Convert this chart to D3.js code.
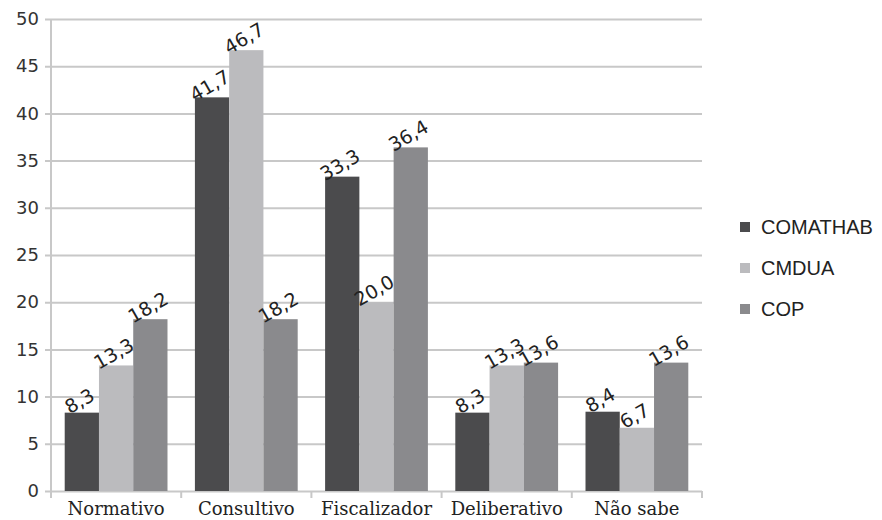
<!DOCTYPE html>
<html>
<head>
<meta charset="utf-8">
<script src="https://cdn.jsdelivr.net/npm/d3@7"></script>
<style>
  body { margin: 0; background: #fff; }
  svg { display: block; }
</style>
</head>
<body>
<div id="graph"></div>
<script>
// categorias e séries
var categories = ["Normativo", "Consultivo", "Fiscalizador", "Deliberativo", "Não sabe"];
var seriesNames = ["COMATHAB", "CMDUA", "COP"];
var comathab = [8.3, 41.7, 33.3, 8.3, 8.4];
var cmdua = [13.3, 46.7, 20.0, 13.3, 6.7];
var cop = [18.2, 18.2, 36.4, 13.6, 13.6];
var yTicks = [0, 5, 10, 15, 20, 25, 30, 35, 40, 45, 50];
var colors = ["#4b4b4d", "#bbbbbe", "#8a8a8d"];

var width = 882, height = 520;
var margin = { top: 19, left: 51, bottom: 29, right: 180 };
var chartWidth = 702 - margin.left;
var chartHeight = height - margin.top - margin.bottom;

var svg = d3.select("#graph").append("svg")
  .attr("width", width).attr("height", height);

var axisLayer = svg.append("g").attr("transform", "translate(" + [margin.left, margin.top] + ")");
var chartLayer = svg.append("g").attr("transform", "translate(" + [margin.left, margin.top] + ")");

var values = [comathab, cmdua, cop];
var data = [];
categories.forEach(function(c, i) {
  seriesNames.forEach(function(s, j) {
    data.push({ cat: c, series: s, idx: j, value: values[j][i] });
  });
});

var xScale = d3.scaleBand().domain(categories).range([0, chartWidth])
  .paddingInner(0).paddingOuter(0);
var xInner = d3.scaleBand().domain(seriesNames)
  .range([0, xScale.bandwidth()]).paddingInner(0).paddingOuter(0.4);
var yScale = d3.scaleLinear().domain([0, 50]).range([chartHeight, 0]);

// grade e eixo y
var yAxis = d3.axisLeft(yScale).tickValues(yTicks).tickSizeInner(-chartWidth).tickSizeOuter(0).tickPadding(12);
var gy = axisLayer.append("g").call(yAxis);
gy.select(".domain").remove();
gy.selectAll(".tick line").attr("stroke", "#c8c8c8").attr("stroke-width", 2).attr("x1", -6);
gy.selectAll(".tick text")
  .attr("font-family", "DejaVu Sans").attr("font-size", 18).attr("fill", "#333");

axisLayer.append("line")
  .attr("x1", 0).attr("x2", 0).attr("y1", 0).attr("y2", chartHeight + 6)
  .attr("stroke", "#c8c8c8").attr("stroke-width", 2);

// eixo x
var xAxis = d3.axisBottom(xScale).tickSize(0).tickPadding(12);
var gx = axisLayer.append("g").attr("transform", "translate(0," + chartHeight + ")").call(xAxis);
gx.select(".domain").remove();
gx.selectAll(".tick text")
  .attr("font-family", "DejaVu Serif").attr("font-size", 18).attr("fill", "#222")
  .attr("dy", "0.67em");
var bounds = categories.map(function(c) { return xScale(c); }).concat([chartWidth]);
axisLayer.selectAll(".xtick").data(bounds).enter().append("line")
  .attr("x1", function(d) { return d; }).attr("x2", function(d) { return d; })
  .attr("y1", chartHeight).attr("y2", chartHeight + 7)
  .attr("stroke", "#c8c8c8").attr("stroke-width", 2);

// barras
chartLayer.selectAll(".bar").data(data).enter().append("rect")
  .attr("x", function(d) { return xScale(d.cat) + xInner(d.series); })
  .attr("y", function(d) { return yScale(d.value); })
  .attr("width", xInner.bandwidth())
  .attr("height", function(d) { return chartHeight - yScale(d.value); })
  .attr("fill", function(d) { return colors[d.idx]; });

// rótulos
chartLayer.selectAll(".lbl").data(data).enter().append("text")
  .attr("transform", function(d) {
    var cx = xScale(d.cat) + xInner(d.series) + xInner.bandwidth() / 2;
    return "translate(" + [cx + 1, yScale(d.value) - 6] + ") rotate(-30)";
  })
  .attr("text-anchor", "middle")
  .attr("font-family", "DejaVu Sans").attr("font-size", 19).attr("fill", "#222")
  .text(function(d) { return d3.format(".1f")(d.value).replace(".", ","); });

// legenda
var legend = svg.append("g").attr("transform", "translate(740,227)");
var items = legend.selectAll(".item").data(seriesNames).enter().append("g")
  .attr("transform", function(d, i) { return "translate(0," + i * 41 + ")"; });
items.append("rect").attr("x", 0).attr("y", -5).attr("width", 10).attr("height", 10)
  .attr("fill", function(d, i) { return colors[i]; });
items.append("text").attr("x", 21).attr("y", 0).attr("dy", "0.36em")
  .attr("font-family", "Liberation Sans").attr("font-size", 20).attr("fill", "#222")
  .text(function(d) { return d; });
</script>
</body>
</html>
